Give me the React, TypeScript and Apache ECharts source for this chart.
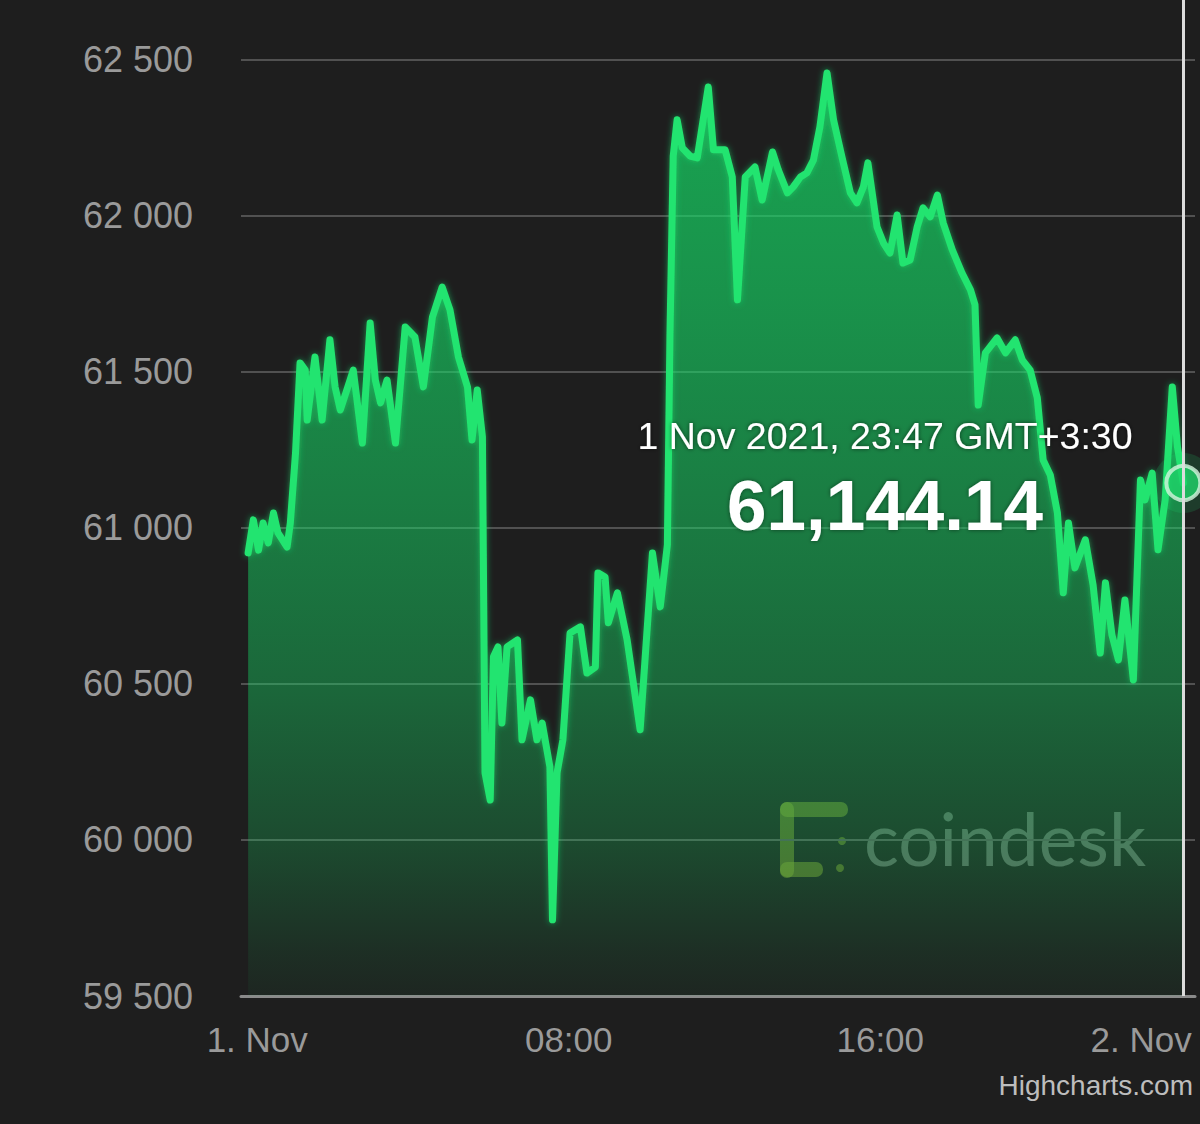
import React, { useEffect, useRef } from "react";
import * as echarts from "echarts";

// Minutes after 1 Nov 2021 00:00 (GMT+3:30)
const timesMin = [
  -14, -6, 2, 9, 17, 25, 32, 46, 51, 59,
  66, 74, 77, 89, 100, 112, 120, 128, 148, 162,
  174, 182, 190, 200, 213, 228, 243, 256, 270, 285,
  297, 310, 324, 331, 339, 347, 351, 359, 364, 371,
  377, 385, 401, 408, 421, 431, 439, 451, 455, 462,
  471, 482, 498, 508, 521, 525, 536, 541, 555, 570,
  590, 609, 621, 632, 636, 641, 647, 655, 667, 678,
  695, 703, 721, 732, 740, 752, 767, 778, 794, 803,
  817, 826, 837, 847, 857, 867, 878, 888, 901, 914,
  924, 934, 941, 955, 965, 975, 986, 995, 1006, 1017,
  1026, 1037, 1048, 1057, 1071, 1086, 1099, 1106, 1111, 1122,
  1140, 1153, 1168, 1179, 1191, 1202, 1211, 1222, 1233, 1242,
  1250, 1260, 1276, 1288, 1299, 1307, 1317, 1327, 1337, 1350,
  1361, 1368, 1379, 1388, 1399, 1410, 1418, 1427,
];

// BTC price (USD)
const prices = [
  60920, 61026, 60929, 61016, 60952, 61048, 60984, 60939, 61016, 61240,
  61529, 61506, 61346, 61548, 61346, 61603, 61452, 61378, 61506, 61272,
  61657, 61474, 61401, 61474, 61272, 61644, 61612, 61452, 61676, 61772,
  61699, 61548, 61452, 61282, 61442, 61292, 60215, 60128, 60587, 60619,
  60375, 60619, 60641, 60321, 60449, 60321, 60375, 60234, 59744, 60215,
  60321, 60663, 60683, 60535, 60554, 60856, 60843, 60696, 60792, 60641,
  60353, 60920, 60747, 60946, 61622, 62192, 62308, 62218, 62192, 62186,
  62413, 62212, 62212, 62125, 61731, 62125, 62157, 62051, 62205, 62147,
  62074, 62093, 62125, 62138, 62179, 62285, 62458, 62308, 62189, 62074,
  62042, 62093, 62170, 61965, 61913, 61881, 62003, 61849, 61859, 61965,
  62026, 61997, 62067, 61978, 61891, 61817, 61763, 61715, 61394, 61561,
  61609, 61561, 61603, 61538, 61506, 61417, 61218, 61170, 61048, 60792,
  61016, 60872, 60962, 60817, 60599, 60824, 60657, 60577, 60769, 60513,
  61154, 61090, 61176, 60930, 61090, 61452, 61260, 61144.14,
];

const xTickValues = [0, 480, 960, 1440];
const xTickLabels = ["1. Nov", "08:00", "16:00", "2. Nov"];
const yTickValues = [59500, 60000, 60500, 61000, 61500, 62000, 62500];
const tooltipDate = "1 Nov 2021";
const tooltipZone = "GMT+3:30";
const watermarkText = "coindesk";
const creditText = "Highcharts.com";

const FONT = "'Liberation Sans', Arial, Helvetica, sans-serif";

function fmtThousands(v: number): string {
  return String(v).replace(/\B(?=(\d{3})+(?!\d))/g, " ");
}

export default function App() {
  const ref = useRef<HTMLDivElement>(null);

  useEffect(() => {
    document.body.style.margin = "0";
    document.body.style.background = "#1e1e1e";
    if (!ref.current) return;
    const chart = echarts.init(ref.current, undefined, { renderer: "svg" });

    const lastT = timesMin[timesMin.length - 1];
    const lastP = prices[prices.length - 1];
    const hh = String(Math.floor(lastT / 60)).padStart(2, "0");
    const mm = String(lastT % 60).padStart(2, "0");
    const tipLine = `${tooltipDate}, ${hh}:${mm} ${tooltipZone}`;
    const tipValue = lastP.toLocaleString("en-US", {
      minimumFractionDigits: 2,
      maximumFractionDigits: 2,
    });

    const data = timesMin.map((t, i) => [t, prices[i]]);
    const logoFill = "rgba(125,150,45,0.55)";

    chart.setOption({
      animation: false,
      backgroundColor: "#1e1e1e",
      grid: {
        left: 241,
        top: 0,
        right: 5,
        bottom: 128,
        containLabel: false,
        outerBoundsMode: "none",
      },
      xAxis: {
        type: "value",
        min: -25,
        max: 1445,
        splitLine: { show: false },
        axisTick: { show: false },
        axisLine: {
          show: true,
          onZero: false,
          lineStyle: { color: "#8a8a8a", width: 3 },
        },
        axisLabel: {
          customValues: xTickValues,
          formatter: (v: number) => {
            const i = xTickValues.indexOf(v);
            return i >= 0 ? xTickLabels[i] : "";
          },
          color: "#9a9a9a",
          fontSize: 35,
          fontFamily: FONT,
          margin: 26,
          alignMaxLabel: "right",
          hideOverlap: false,
        },
      },
      yAxis: {
        type: "value",
        min: 59500,
        max: 62692,
        interval: 500,
        axisLine: { show: false },
        axisTick: { show: false },
        splitLine: {
          show: true,
          showMaxLine: false,
          lineStyle: { color: "#515151", width: 2 },
        },
        axisLabel: {
          showMaxLabel: false,
          formatter: (v: number) =>
            yTickValues.indexOf(v) >= 0 ? fmtThousands(v) : "",
          color: "#9a9a9a",
          fontSize: 36,
          fontFamily: FONT,
          margin: 48,
        },
      },
      series: [
        {
          type: "line",
          data,
          showSymbol: false,
          symbol: "none",
          z: 2,
          lineStyle: {
            color: "#22e470",
            width: 7,
            join: "round",
            cap: "round",
            shadowColor: "rgba(34,228,112,0.55)",
            shadowBlur: 6,
          },
          areaStyle: {
            color: new echarts.graphic.LinearGradient(0, 0, 0, 1, [
              { offset: 0, color: "rgba(22,222,104,1)" },
              { offset: 0.25, color: "rgba(22,222,104,0.86)" },
              { offset: 0.5, color: "rgba(22,222,104,0.68)" },
              { offset: 0.66, color: "rgba(22,222,104,0.55)" },
              { offset: 0.83, color: "rgba(22,222,104,0.34)" },
              { offset: 0.95, color: "rgba(22,222,104,0.13)" },
              { offset: 1, color: "rgba(22,222,104,0.06)" },
            ]),
          },
          markLine: {
            silent: true,
            symbol: ["none", "none"],
            label: { show: false },
            lineStyle: { color: "#dcdcdc", width: 3, type: "solid" },
            data: [{ xAxis: lastT }],
          },
        },
        {
          type: "scatter",
          data: [[lastT, lastP]],
          symbolSize: 60,
          silent: true,
          z: 3,
          itemStyle: { color: "rgba(32,220,110,0.2)" },
        },
        {
          type: "scatter",
          data: [[lastT, lastP]],
          symbolSize: 34,
          z: 4,
          itemStyle: {
            color: "#1fd46a",
            borderColor: "#d4f5df",
            borderWidth: 4,
          },
        },
      ],
      graphic: [
        {
          type: "group",
          z: 50,
          silent: true,
          children: [
            { type: "rect", shape: { x: 780, y: 802, width: 14, height: 76, r: 7 }, style: { fill: logoFill } },
            { type: "rect", shape: { x: 780, y: 802, width: 68, height: 15, r: 7 }, style: { fill: logoFill } },
            { type: "rect", shape: { x: 780, y: 862, width: 43, height: 15, r: 7 }, style: { fill: logoFill } },
            { type: "circle", shape: { cx: 842, cy: 841, r: 4 }, style: { fill: logoFill } },
            { type: "circle", shape: { cx: 840, cy: 868, r: 4 }, style: { fill: logoFill } },
            {
              type: "text",
              x: 864,
              y: 838,
              style: {
                text: watermarkText,
                fill: "rgba(215,235,220,0.32)",
                fontSize: 73,
                fontFamily: "Lato, 'Open Sans', sans-serif",
                align: "left",
                verticalAlign: "middle",
              },
            },
          ],
        },
        {
          type: "text",
          z: 100,
          x: 885,
          y: 436,
          silent: true,
          style: {
            text: tipLine,
            fill: "#ffffff",
            fontSize: 37.5,
            fontFamily: FONT,
            align: "center",
            verticalAlign: "middle",
            textShadowColor: "rgba(0,0,0,0.6)",
            textShadowBlur: 4,
          },
        },
        {
          type: "text",
          z: 100,
          x: 885,
          y: 505,
          silent: true,
          style: {
            text: tipValue,
            fill: "#ffffff",
            fontSize: 71,
            fontWeight: "bold",
            fontFamily: FONT,
            align: "center",
            verticalAlign: "middle",
            textShadowColor: "rgba(0,0,0,0.5)",
            textShadowBlur: 4,
          },
        },
        {
          type: "text",
          z: 100,
          x: 1193,
          y: 1085,
          silent: true,
          style: {
            text: creditText,
            fill: "#bdbdbd",
            fontSize: 28,
            fontFamily: FONT,
            align: "right",
            verticalAlign: "middle",
          },
        },
      ],
    });

    return () => {
      chart.dispose();
    };
  }, []);

  return (
    <div
      ref={ref}
      style={{ width: 1200, height: 1124, background: "#1e1e1e" }}
    />
  );
}
